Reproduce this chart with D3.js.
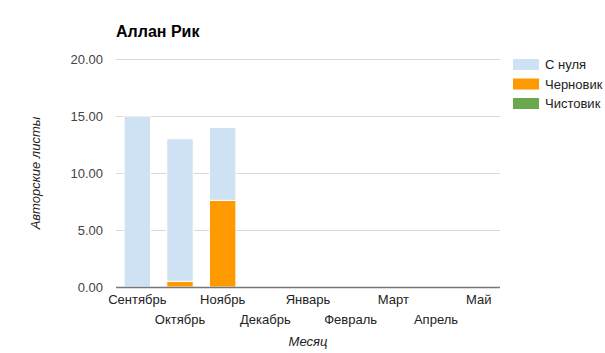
<!DOCTYPE html>
<html>
<head>
<meta charset="utf-8">
<script src="https://cdn.jsdelivr.net/npm/d3@7"></script>
<style>
  body { margin: 0; background: #fff; }
  text { font-family: Arial, "Liberation Sans", sans-serif; }
</style>
</head>
<body>
<svg id="chart"></svg>
<script>
const months = ["Сентябрь", "Октябрь", "Ноябрь", "Декабрь", "Январь", "Февраль", "Март", "Апрель", "Май"];
const seriesNames = ["С нуля", "Черновик", "Чистовик"];
const fromScratch = [15, 12.5, 6.4, 0, 0, 0, 0, 0, 0];
const draft = [0, 0.5, 7.6, 0, 0, 0, 0, 0, 0];
const finalCopy = [0, 0, 0, 0, 0, 0, 0, 0, 0];
const yTicks = [0, 5, 10, 15, 20];
const colors = ["#cfe2f3", "#ff9900", "#6aa84f"];

const width = 605, height = 353;
const margin = { left: 116, right: 105, top: 59, bottom: 66 };

const svg = d3.select("#chart").attr("width", width).attr("height", height);

const rows = months.map((m, i) => ({
    month: m,
    "С нуля": fromScratch[i],
    "Черновик": draft[i],
    "Чистовик": finalCopy[i]
}));

// bottom to top: Чистовик, Черновик, С нуля
const stack = d3.stack().keys(seriesNames.slice().reverse());
const layers = stack(rows);

const x = d3.scaleBand()
    .domain(months)
    .range([margin.left, width - margin.right])
    .paddingInner(0.38)
    .paddingOuter(0.19);

const y = d3.scaleLinear()
    .domain([0, 20])
    .range([height - margin.bottom, margin.top]);

const color = d3.scaleOrdinal().domain(seriesNames).range(colors);

// gridlines
svg.append("g")
    .selectAll("line")
    .data(yTicks)
    .enter().append("line")
    .attr("x1", margin.left)
    .attr("x2", width - margin.right)
    .attr("y1", d => y(d) + 0.5)
    .attr("y2", d => y(d) + 0.5)
    .attr("stroke", "#d9d9d9")
    .attr("stroke-width", 1);

// y tick labels
svg.append("g")
    .selectAll("text")
    .data(yTicks)
    .enter().append("text")
    .attr("x", margin.left - 13)
    .attr("y", d => y(d) + 4.5)
    .attr("text-anchor", "end")
    .style("font-size", "13px")
    .style("fill", "#444")
    .text(d => d3.format(".2f")(d));

// bars
svg.append("g")
    .selectAll("g")
    .data(layers)
    .enter().append("g")
    .attr("fill", d => color(d.key))
    .selectAll("rect")
    .data(d => d.filter(s => s[1] - s[0] > 0))
    .enter().append("rect")
    .attr("x", d => x(d.data.month))
    .attr("width", x.bandwidth())
    .attr("y", d => y(d[1]))
    .attr("height", d => y(d[0]) - y(d[1]))
    .attr("stroke", "#fff")
    .attr("stroke-width", 1);

// baseline
svg.append("line")
    .attr("x1", margin.left)
    .attr("x2", width - margin.right)
    .attr("y1", y(0) + 0.5)
    .attr("y2", y(0) + 0.5)
    .attr("stroke", "#777")
    .attr("stroke-width", 1.3);

// x labels, staggered
svg.append("g")
    .selectAll("text")
    .data(months)
    .enter().append("text")
    .attr("x", d => x(d) + x.bandwidth() / 2)
    .attr("y", (d, i) => i % 2 === 0 ? 304 : 324)
    .attr("text-anchor", "middle")
    .style("font-size", "13px")
    .style("fill", "#222")
    .text(d => d);

// title
svg.append("text")
    .attr("x", margin.left)
    .attr("y", 37)
    .style("font-size", "16px")
    .style("font-weight", "bold")
    .style("fill", "#000")
    .text("Аллан Рик");

// axis titles
svg.append("text")
    .attr("transform", `translate(40, ${(y(0) + y(20)) / 2}) rotate(-90)`)
    .attr("text-anchor", "middle")
    .style("font-size", "13px")
    .style("font-style", "italic")
    .style("fill", "#222")
    .text("Авторские листы");

svg.append("text")
    .attr("x", (margin.left + width - margin.right) / 2)
    .attr("y", 346)
    .attr("text-anchor", "middle")
    .style("font-size", "13px")
    .style("font-style", "italic")
    .style("fill", "#222")
    .text("Месяц");

// legend
const legend = svg.append("g")
    .selectAll("g")
    .data(seriesNames)
    .enter().append("g")
    .attr("transform", (d, i) => `translate(513, ${59 + i * 19.5})`);

legend.append("rect")
    .attr("width", 26)
    .attr("height", 11)
    .attr("fill", d => color(d));

legend.append("text")
    .attr("x", 32)
    .attr("y", 10)
    .style("font-size", "13px")
    .style("fill", "#222")
    .text(d => d);
</script>
</body>
</html>
